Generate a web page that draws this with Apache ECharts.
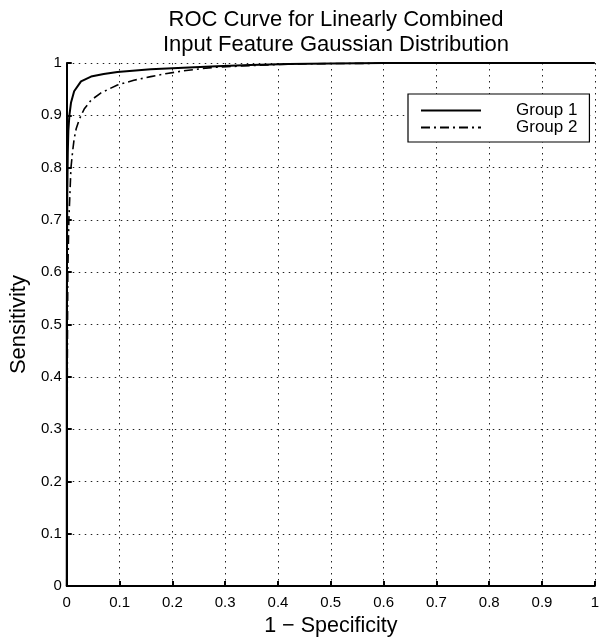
<!DOCTYPE html>
<html>
<head>
<meta charset="utf-8">
<style>
html,body{margin:0;padding:0;background:#fff;}
#chart{width:602px;height:642px;}
</style>
<script src="https://cdn.jsdelivr.net/npm/echarts@6/dist/echarts.min.js"></script>
</head>
<body>
<div id="chart"></div>
<script>
// Data
var titleLines = ['ROC Curve for Linearly Combined', 'Input Feature Gaussian Distribution'];
var xAxisName = '1 \u2212 Specificity';
var yAxisName = 'Sensitivity';
var seriesNames = ['Group 1', 'Group 2'];

var group1X = [0, 0, 0.001, 0.002, 0.003, 0.005, 0.008, 0.014, 0.027, 0.046, 0.07, 0.096, 0.159, 0.221, 0.284, 0.347, 0.42, 0.5, 0.6, 0.8, 1];
var group1Y = [0, 0.5, 0.75, 0.83, 0.87, 0.9, 0.924, 0.946, 0.965, 0.974, 0.979, 0.983, 0.988, 0.991, 0.994, 0.996, 0.998, 0.999, 1, 1, 1];

var group2X = [0, 0.001, 0.002, 0.004, 0.006, 0.008, 0.011, 0.014, 0.018, 0.024, 0.033, 0.046, 0.065, 0.096, 0.127, 0.159, 0.19, 0.221, 0.253, 0.284, 0.347, 0.42, 0.5, 0.7, 1];
var group2Y = [0, 0.4, 0.6, 0.7, 0.75, 0.8, 0.83, 0.855, 0.875, 0.893, 0.912, 0.929, 0.943, 0.958, 0.967, 0.974, 0.98, 0.985, 0.989, 0.992, 0.995, 0.998, 0.999, 1, 1];

function pairs(xs, ys) {
  var out = [];
  for (var i = 0; i < xs.length; i++) out.push([xs[i], ys[i]]);
  return out;
}

var FONT = 'Liberation Sans, Arial, Helvetica, sans-serif';
var chart = echarts.init(document.getElementById('chart'), null, {renderer: 'canvas'});

var gridLine = {show: true, lineStyle: {color: '#222', width: 1, type: [1.5, 4.5]}};

chart.setOption({
  animation: false,
  backgroundColor: '#fff',
  title: {
    text: titleLines.join('\n'),
    left: 331,
    textAlign: 'center',
    top: 2,
    textStyle: {fontFamily: FONT, fontSize: 22, fontWeight: 'normal', color: '#000', lineHeight: 25}
  },
  legend: {
    data: seriesNames,
    orient: 'vertical',
    left: 408,
    top: 94,
    padding: [8, 12, 6, 12],
    itemGap: 0,
    itemWidth: 60,
    itemHeight: 17,
    borderColor: '#000',
    borderWidth: 1.2,
    backgroundColor: '#fff',
    itemStyle: {color: 'rgba(0,0,0,0)', opacity: 0, borderWidth: 0},
    textStyle: {fontFamily: FONT, fontSize: 17, color: '#000', padding: [0, 0, 0, 30]}
  },
  grid: {left: 66, right: 5, top: 63, bottom: 49, containLabel: false},
  xAxis: {
    type: 'value',
    min: 0, max: 1, interval: 0.1,
    name: xAxisName,
    nameLocation: 'middle',
    nameGap: 27,
    nameTextStyle: {fontFamily: FONT, fontSize: 21.5, color: '#000'},
    axisLine: {show: true, onZero: false, lineStyle: {color: '#000', width: 2}},
    axisTick: {show: true, inside: true, length: 5, lineStyle: {color: '#000', width: 2}},
    axisLabel: {fontFamily: FONT, fontSize: 15, color: '#000', margin: 9},
    splitLine: gridLine
  },
  yAxis: {
    type: 'value',
    min: 0, max: 1, interval: 0.1,
    name: yAxisName,
    nameLocation: 'middle',
    nameGap: 30,
    nameTextStyle: {fontFamily: FONT, fontSize: 22, color: '#000'},
    axisLine: {show: true, onZero: false, lineStyle: {color: '#000', width: 2}},
    axisTick: {show: true, inside: true, length: 5, lineStyle: {color: '#000', width: 2}},
    axisLabel: {fontFamily: FONT, fontSize: 15, color: '#000', margin: 5},
    splitLine: gridLine
  },
  series: [
    {
      name: seriesNames[0],
      type: 'line',
      data: pairs(group1X, group1Y),
      smooth: false,
      symbol: 'none',
      lineStyle: {color: '#000', width: 2, type: 'solid'},
      itemStyle: {color: '#000'},
      z: 3
    },
    {
      name: seriesNames[1],
      type: 'line',
      data: pairs(group2X, group2Y),
      smooth: false,
      symbol: 'none',
      lineStyle: {color: '#000', width: 1.6, type: [9, 4, 2, 4]},
      itemStyle: {color: '#000'},
      z: 3
    }
  ]
});
</script>
</body>
</html>
